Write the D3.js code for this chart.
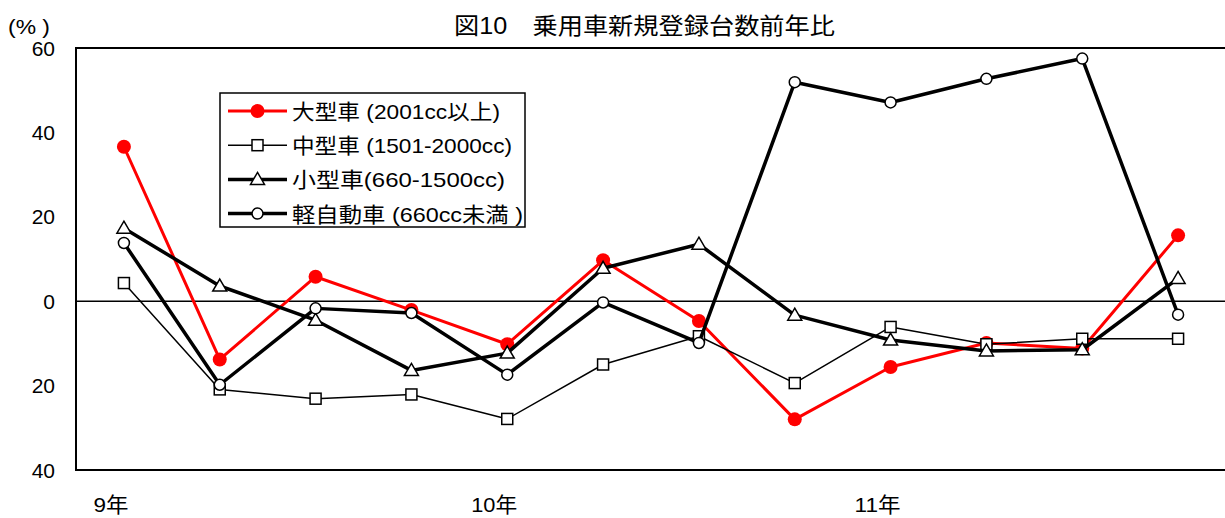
<!DOCTYPE html>
<html>
<head>
<meta charset="utf-8">
<script src="https://cdn.jsdelivr.net/npm/d3@7"></script>
<style>
  html, body { margin: 0; padding: 0; background: #fff; }
  svg text { font-family: "Liberation Sans", Arial, "Noto Sans CJK JP", sans-serif; fill: #000; }
</style>
</head>
<body>
<svg id="chart" width="1225" height="518"></svg>
<script>
// Quarterly periods, Heisei 9 to 11
const categories = ["9年1-3月", "9年4-6月", "9年7-9月", "9年10-12月",
                    "10年1-3月", "10年4-6月", "10年7-9月", "10年10-12月",
                    "11年1-3月", "11年4-6月", "11年7-9月", "11年10-12月"];
const xTickLabels = ["9年", "", "", "", "10年", "", "", "", "11年", "", "", ""];

// Year-on-year change of new passenger car registrations (%)
const largeCars   = [36.6, -13.8, 5.8, -2.1, -10.2, 9.7, -4.7, -28.0, -15.6, -9.9, -11.2, 15.6];
const mediumCars  = [4.3, -20.9, -23.1, -22.1, -27.9, -15.0, -8.3, -19.4, -6.1, -10.2, -8.9, -8.9];
const smallCars   = [17.3, 3.6, -4.5, -16.4, -12.3, 7.8, 13.5, -3.3, -9.2, -11.8, -11.5, 5.4];
const miniCars    = [13.8, -19.8, -1.7, -2.8, -17.4, -0.3, -9.9, 51.9, 47.1, 52.7, 57.5, -3.2];

const yTicks = [60, 40, 20, 0, -20, -40];
const yTickLabels = ["60", "40", "20", "0", "20", "40"];

const seriesNames = ["大型車 (2001cc以上)", "中型車 (1501-2000cc)", "小型車(660-1500cc)", "軽自動車 (660cc未満 )"];
const legendTextWidths = [208, 220, 213, 231];

const svg = d3.select("#chart");

const plot = { left: 76, right: 1226, top: 48, bottom: 470 };

const x = d3.scalePoint().domain(categories).range([plot.left, plot.right]).padding(0.5);
const y = d3.scaleLinear().domain([-40, 60]).range([plot.bottom, plot.top]);

// Title
svg.append("text")
  .attr("x", 454).attr("y", 34)
  .attr("textLength", 381)
  .attr("lengthAdjust", "spacingAndGlyphs")
  .style("font-size", "23px")
  .text("図10　乗用車新規登録台数前年比");

// Unit label
svg.append("text")
  .attr("x", 8).attr("y", 34)
  .attr("textLength", 42)
  .attr("lengthAdjust", "spacingAndGlyphs")
  .style("font-size", "21px")
  .text("(%  )");

// Y axis labels
svg.append("g").selectAll("text")
  .data(yTicks)
  .join("text")
  .attr("x", 55)
  .attr("y", d => y(d) + 7.5)
  .attr("text-anchor", "end")
  .style("font-size", "21px")
  .text((d, i) => yTickLabels[i]);

// X axis labels
svg.append("g").selectAll("text")
  .data(categories.filter((c, i) => xTickLabels[i] !== ""))
  .join("text")
  .attr("x", d => x(d) - 13)
  .attr("y", 512)
  .attr("text-anchor", "middle")
  .attr("textLength", (d, i) => i === 0 ? 35 : 46)
  .attr("lengthAdjust", "spacingAndGlyphs")
  .style("font-size", "21px")
  .text(d => xTickLabels[categories.indexOf(d)]);

// Zero line
svg.append("line")
  .attr("x1", plot.left).attr("x2", plot.right)
  .attr("y1", y(0)).attr("y2", y(0))
  .attr("stroke", "#000").attr("stroke-width", 1.5);

// Plot frame
svg.append("path")
  .attr("d", `M${plot.right},${plot.top}H${plot.left}V${plot.bottom}H${plot.right}`)
  .attr("fill", "none").attr("stroke", "#000").attr("stroke-width", 2);

const series = [
  { name: seriesNames[0], values: largeCars,  color: "#ff0000", width: 3,   marker: "dot" },
  { name: seriesNames[1], values: mediumCars, color: "#000",    width: 1.5, marker: "square" },
  { name: seriesNames[2], values: smallCars,  color: "#000",    width: 3.5, marker: "triangle" },
  { name: seriesNames[3], values: miniCars,   color: "#000",    width: 3.5, marker: "circle" }
];

function drawMarker(g, s, cx, cy) {
  if (s.marker === "dot") {
    g.append("circle").attr("cx", cx).attr("cy", cy).attr("r", 7)
      .attr("fill", "#ff0000");
  } else if (s.marker === "square") {
    g.append("rect").attr("x", cx - 5.5).attr("y", cy - 5.5)
      .attr("width", 11).attr("height", 11)
      .attr("fill", "#fff").attr("stroke", "#000").attr("stroke-width", 1.5);
  } else if (s.marker === "triangle") {
    g.append("path")
      .attr("d", `M${cx},${cy - 7}L${cx + 7},${cy + 5}L${cx - 7},${cy + 5}Z`)
      .attr("fill", "#fff").attr("stroke", "#000").attr("stroke-width", 1.5);
  } else {
    g.append("circle").attr("cx", cx).attr("cy", cy).attr("r", 5.5)
      .attr("fill", "#fff").attr("stroke", "#000").attr("stroke-width", 1.5);
  }
}

const line = d3.line()
  .x((d, i) => x(categories[i]))
  .y(d => y(d));

series.forEach(s => {
  const g = svg.append("g");
  g.append("path")
    .attr("d", line(s.values))
    .attr("fill", "none")
    .attr("stroke", s.color)
    .attr("stroke-width", s.width)
    .attr("stroke-linejoin", "round");
  s.values.forEach((v, i) => drawMarker(g, s, x(categories[i]), y(v)));
});

// Legend
const legend = svg.append("g");
legend.append("rect")
  .attr("x", 220).attr("y", 93)
  .attr("width", 305).attr("height", 134)
  .attr("fill", "#fff").attr("stroke", "#000").attr("stroke-width", 1.5);

series.forEach((s, i) => {
  const ly = 111 + i * 34.2;
  legend.append("line")
    .attr("x1", 228).attr("x2", 287)
    .attr("y1", ly).attr("y2", ly)
    .attr("stroke", s.color).attr("stroke-width", s.width);
  drawMarker(legend, s, 257.5, ly);
  legend.append("text")
    .attr("x", 292).attr("y", ly + 8)
    .attr("textLength", legendTextWidths[i])
    .attr("lengthAdjust", "spacingAndGlyphs")
    .style("font-size", "21px")
    .text(s.name);
});
</script>
</body>
</html>
